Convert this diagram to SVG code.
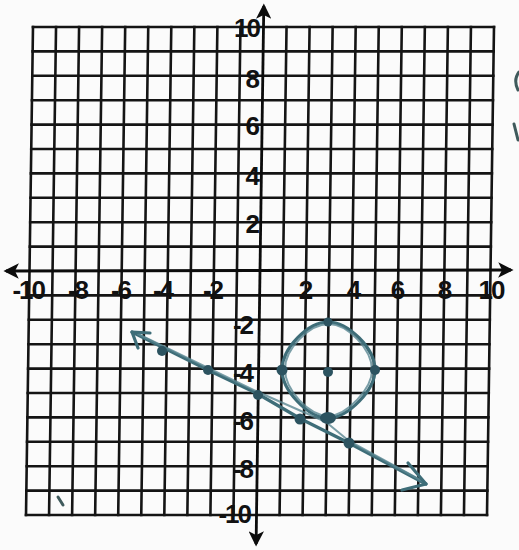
<svg xmlns="http://www.w3.org/2000/svg" width="519" height="550" viewBox="0 0 519 550">
  <style>
    .grid { fill: none; stroke: #141414; stroke-width: 2.6; stroke-linecap: square; }
    .axis { fill: none; stroke: #0c0c0c; stroke-width: 2.8; }
    .lbl { font-family: "Liberation Sans", Arial, sans-serif; font-weight: bold; font-size: 26px; fill: #111; letter-spacing: -2px; }
    .ink { fill: none; stroke: #3e6d78; stroke-width: 3.2; stroke-linecap: round; stroke-linejoin: round; }
    .ink2 { fill: none; stroke: #5a8792; stroke-width: 2; stroke-linecap: round; stroke-linejoin: round; opacity: 0.8; }
    .dot { fill: #2c5360; }
    .stray { fill: none; stroke: #3f5a5c; stroke-width: 3; stroke-linecap: round; }
  </style>
  <defs>
    <marker id="axarrow" viewBox="0 0 12 12" refX="10" refY="6" markerWidth="5.5" markerHeight="5.5" orient="auto-start-reverse">
      <path d="M0,0 L12,6 L0,12 L3,6 Z" fill="#0c0c0c"/>
    </marker>
  </defs>
  <rect width="519" height="550" fill="#fbfbfb"/>

  <g id="plane" transform="matrix(1 0 -0.0143 1 3.875 0)">
    <g id="grid">
      <path class="grid" d="M29.5,27 V515 M52.55,27 V515 M75.6,27 V515 M98.65,27 V515 M121.7,27 V515 M144.75,27 V515 M167.8,27 V515 M190.85,27 V515 M213.9,27 V515 M236.95,27 V515 M283.05,27 V515 M306.1,27 V515 M329.15,27 V515 M352.2,27 V515 M375.25,27 V515 M398.3,27 V515 M421.35,27 V515 M444.4,27 V515 M467.45,27 V515 M490.5,27 V515"/>
      <path class="grid" d="M29.5,27 H490.5 M29.5,51.4 H490.5 M29.5,75.8 H490.5 M29.5,100.2 H490.5 M29.5,124.6 H490.5 M29.5,149 H490.5 M29.5,173.4 H490.5 M29.5,197.8 H490.5 M29.5,222.2 H490.5 M29.5,246.6 H490.5 M29.5,295.4 H490.5 M29.5,319.8 H490.5 M29.5,344.2 H490.5 M29.5,368.6 H490.5 M29.5,393 H490.5 M29.5,417.4 H490.5 M29.5,441.8 H490.5 M29.5,466.2 H490.5 M29.5,490.6 H490.5 M29.5,515 H490.5"/>
    </g>
    <g id="axes">
      <line class="axis" x1="6" y1="271" x2="511" y2="270" marker-start="url(#axarrow)" marker-end="url(#axarrow)"/>
      <line class="axis" x1="260" y1="6" x2="260" y2="544" marker-start="url(#axarrow)" marker-end="url(#axarrow)"/>
    </g>
  </g>

  <g id="x-labels" class="lbl">
    <text x="44" y="299" text-anchor="end">-10</text>
    <text x="87" y="299" text-anchor="end">-8</text>
    <text x="130" y="299" text-anchor="end">-6</text>
    <text x="172" y="299" text-anchor="end">-4</text>
    <text x="222" y="299" text-anchor="end">-2</text>
    <text x="305" y="299" text-anchor="middle">2</text>
    <text x="353" y="299" text-anchor="middle">4</text>
    <text x="397" y="299" text-anchor="middle">6</text>
    <text x="444" y="299" text-anchor="middle">8</text>
    <text x="491" y="299" text-anchor="middle">10</text>
  </g>
  <g id="y-labels" class="lbl" text-anchor="end">
    <text x="259" y="37">10</text>
    <text x="258" y="88">8</text>
    <text x="258" y="135">6</text>
    <text x="258" y="185">4</text>
    <text x="258" y="233">2</text>
    <text x="252" y="334">-2</text>
    <text x="252" y="382">-4</text>
    <text x="252" y="430">-6</text>
    <text x="252" y="478">-8</text>
    <text x="250" y="523">-10</text>
  </g>

  <g id="circle">
    <path class="ink" d="M328,322 C348,322 375,348 375,370 C375,390 348,418 328,418 C308,418 282,390 282,370 C282,348 308,322 328,322 Z"/>
    <path class="ink2" d="M329,324 C347,324 372,349 372,370 C372,389 347,415 329,416 C309,416 285,390 285,369 C285,349 309,324 329,324 Z"/>
  </g>

  <g id="line">
    <path class="ink" d="M132,332 L208,370 L258,394 L301,419 L349,443 L426,484"/>
    <path class="ink2" d="M138,334 L258,392 L326,422 L349,441 L424,482"/>
    <path class="ink" d="M150,333 L132,332 L138,348"/>
    <path class="ink" d="M408,463 L426,484 L402,490"/>
  </g>

  <g id="points">
    <circle class="dot" cx="328" cy="322" r="4.5"/>
    <circle class="dot" cx="282" cy="370" r="5.5"/>
    <circle class="dot" cx="328" cy="372" r="5"/>
    <circle class="dot" cx="375" cy="370" r="5"/>
    <ellipse class="dot" cx="328" cy="418" rx="8" ry="6"/>
    <circle class="dot" cx="300" cy="419" r="5.5"/>
    <circle class="dot" cx="349" cy="443" r="5.5"/>
    <circle class="dot" cx="258" cy="395" r="5"/>
    <circle class="dot" cx="208" cy="370" r="5"/>
    <circle class="dot" cx="162" cy="351" r="5"/>
  </g>

  <g id="stray-marks">
    <path class="stray" d="M519,72 Q513,80 518,90"/>
    <path class="stray" d="M514,124 L518,140"/>
    <path class="stray" d="M58,497 L63,505" stroke-width="1.5"/>
  </g>
</svg>
